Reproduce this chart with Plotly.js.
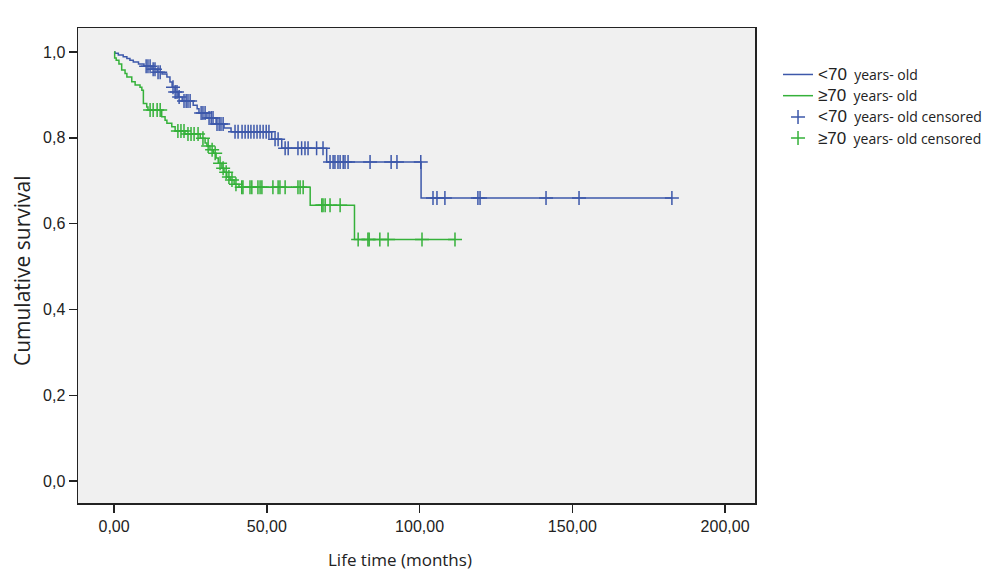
<!DOCTYPE html>
<html>
<head>
<meta charset="utf-8">
<script src="https://cdn.plot.ly/plotly-3.0.1.min.js"></script>
<style>html,body{margin:0;padding:0;background:#fff;}#chart{width:1000px;height:586px;}</style>
</head>
<body>
<div id="chart"></div>
<script>
// ----- data -----
const groupNames = ['<70', '≥70'];

// <70 years-old: event times (months) and survival after each event
const youngEventTimes = [0.3, 1.4, 3.0, 4.2, 5.2, 6.3, 8.0, 9.8, 12.4, 14.1, 15.7, 17.3, 18.3, 19.0, 20.0, 21.0, 22.3, 25.9, 27.2, 27.8, 30.4, 33.4, 36.0, 38.3, 51.6, 54.9, 69.6, 100.5];
const youngSurvival   = [0.997, 0.993, 0.989, 0.985, 0.981, 0.977, 0.972, 0.967, 0.960, 0.953, 0.949, 0.942, 0.930, 0.918, 0.907, 0.895, 0.886, 0.876, 0.868, 0.858, 0.846, 0.832, 0.823, 0.814, 0.797, 0.776, 0.744, 0.660];
const youngCensored   = [10.5, 11.1, 11.8, 12.8, 13.4, 14.4, 15.1, 19.3, 20.0, 20.6, 21.3, 22.9, 23.6, 24.2, 24.9, 28.5, 29.1, 29.8, 31.1, 31.8, 32.4, 33.7, 34.4, 35.0, 35.7, 39.6, 40.6, 41.9, 42.9, 43.9, 44.8, 45.8, 46.8, 47.8, 48.8, 49.8, 50.7, 52.7, 53.7, 56.0, 57.0, 60.2, 61.4, 62.5, 63.5, 66.3, 68.4, 70.7, 71.7, 72.3, 73.3, 74.0, 75.0, 75.6, 76.6, 83.8, 90.7, 92.6, 100.4, 104.4, 105.7, 108.3, 119.1, 119.8, 141.4, 152.2, 182.6];

// >=70 years-old
const oldEventTimes = [0.2, 0.7, 1.6, 2.5, 3.6, 4.2, 5.8, 6.9, 8.5, 9.1, 9.6, 10.7, 11.1, 15.6, 16.7, 17.3, 18.9, 20.0, 23.2, 28.2, 29.8, 30.4, 31.4, 32.5, 33.4, 34.1, 35.3, 36.0, 36.9, 38.0, 39.3, 40.9, 64.2, 78.7];
const oldSurvival   = [0.986, 0.981, 0.972, 0.958, 0.950, 0.942, 0.931, 0.923, 0.918, 0.911, 0.880, 0.872, 0.865, 0.849, 0.841, 0.834, 0.826, 0.816, 0.809, 0.799, 0.788, 0.781, 0.772, 0.764, 0.753, 0.741, 0.729, 0.720, 0.709, 0.702, 0.692, 0.685, 0.643, 0.563];
const oldCensored   = [11.8, 12.8, 14.1, 15.1, 20.9, 21.9, 22.9, 24.2, 25.2, 26.2, 27.5, 29.1, 30.8, 32.1, 33.1, 34.7, 35.7, 36.7, 37.6, 38.6, 39.9, 41.8, 42.2, 44.5, 45.1, 47.1, 47.8, 48.4, 52.0, 53.7, 54.3, 56.0, 60.2, 60.9, 61.9, 68.0, 68.4, 69.1, 70.7, 74.0, 79.9, 83.1, 83.5, 87.0, 89.7, 100.8, 111.6];

const xTicks = [0, 50, 100, 150, 200];
const yTicks = [0, 0.2, 0.4, 0.6, 0.8, 1.0];

// ----- helpers -----
function survAt(times, surv, t) {
  let s = 1;
  for (let i = 0; i < times.length; i++) { if (times[i] <= t) s = surv[i]; }
  return s;
}
function stepCurve(times, surv, censored) {
  const lastT = Math.max(times[times.length - 1], censored[censored.length - 1]);
  const x = [0].concat(times, [lastT]);
  const y = [1].concat(surv, [surv[surv.length - 1]]);
  return {x, y};
}

const blue = '#3d58aa';
const green = '#35b13a';
const big = t => '<span style="font-size:17px;font-family:Liberation Sans, Arial">' + t + '</span>&nbsp;&nbsp;';

const cY = stepCurve(youngEventTimes, youngSurvival, youngCensored);
const cO = stepCurve(oldEventTimes, oldSurvival, oldCensored);

const traces = [
  {x: cY.x, y: cY.y, mode: 'lines', line: {shape: 'hv', color: blue, width: 1.5},
   name: big('&lt;70') + 'years- old'},
  {x: cO.x, y: cO.y, mode: 'lines', line: {shape: 'hv', color: green, width: 1.5},
   name: big('≥70') + 'years- old'},
  {x: youngCensored, y: youngCensored.map(t => survAt(youngEventTimes, youngSurvival, t)), mode: 'markers',
   marker: {symbol: 'cross-thin-open', size: 10, color: blue, line: {color: blue, width: 1.5}},
   name: big('&lt;70') + 'years- old censored'},
  {x: oldCensored, y: oldCensored.map(t => survAt(oldEventTimes, oldSurvival, t)), mode: 'markers',
   marker: {symbol: 'cross-thin-open', size: 10, color: green, line: {color: green, width: 1.5}},
   name: big('≥70') + 'years- old censored'}
];

const tickFont = {family: 'Liberation Sans, Arial, sans-serif', size: 16, color: '#222'};

const layout = {
  width: 1000, height: 586,
  margin: {l: 78, r: 245, t: 28, b: 83},
  paper_bgcolor: '#ffffff',
  plot_bgcolor: '#f0f0f0',
  separators: ', ',
  showlegend: true,
  legend: {x: 1.034, y: 0.935, xanchor: 'left', yanchor: 'top', tracegroupgap: 0,
           font: {family: 'Open Sans, sans-serif', size: 14, color: '#222'},
           bgcolor: 'rgba(0,0,0,0)', itemwidth: 30},
  xaxis: {range: [-11.8, 209.8], tickvals: xTicks, tickformat: '.2f', ticks: 'outside', ticklen: 8,
          tickwidth: 1.5, tickcolor: '#222', showline: true, linecolor: '#222', linewidth: 1.5, mirror: true,
          showgrid: false, zeroline: false, tickfont: tickFont, title: {text: ''}},
  yaxis: {range: [-0.051, 1.056], tickvals: yTicks, tickformat: '.1f', ticks: 'outside', ticklen: 8,
          tickwidth: 1.5, tickcolor: '#222', showline: true, linecolor: '#222', linewidth: 1.5, mirror: true,
          showgrid: false, zeroline: false, tickfont: tickFont, title: {text: ''}},
  annotations: [
    {text: 'Life time (months)', xref: 'paper', yref: 'paper', x: 0.476, y: -0.09, xanchor: 'center', yanchor: 'top',
     showarrow: false, font: {family: 'Open Sans, sans-serif', size: 17, color: '#222'}},
    {text: 'Cumulative survival', xref: 'paper', yref: 'paper', x: -0.083, y: 0.49, xanchor: 'center', yanchor: 'middle',
     textangle: -90, showarrow: false, font: {family: 'Open Sans, sans-serif', size: 21, color: '#222'}}
  ]
};

Plotly.newPlot('chart', traces, layout, {displayModeBar: false, staticPlot: true});
</script>
</body>
</html>
